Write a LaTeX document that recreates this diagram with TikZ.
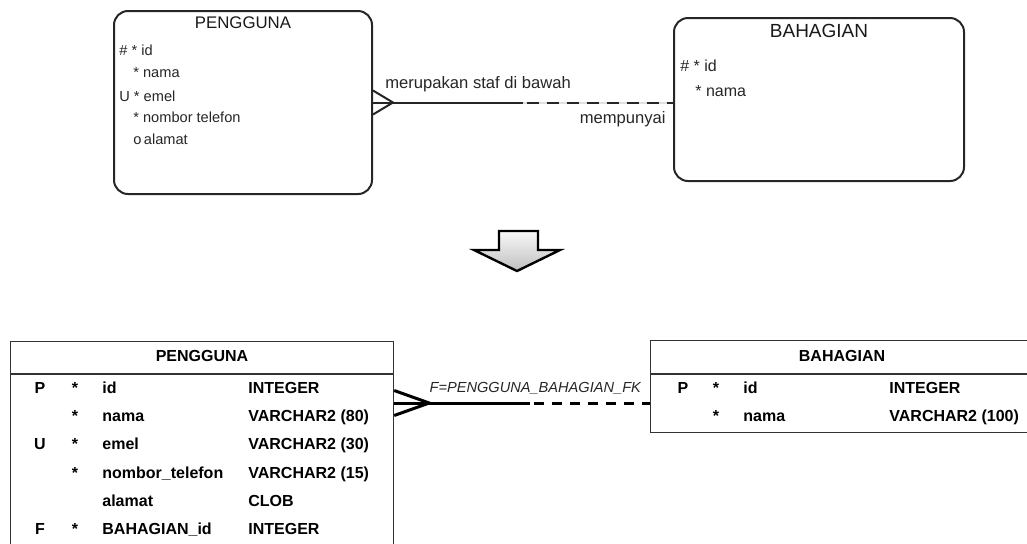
\documentclass[tikz,border=0pt]{standalone}
\usepackage{fontspec}
\setmainfont{Liberation Sans}
\usetikzlibrary{positioning,calc}
\definecolor{erdgray}{rgb}{0.15,0.15,0.15}

\tikzset{
  entity/.style={draw=erdgray, line width=1pt, rounded corners=7pt, anchor=north west, inner sep=0pt},
  enttitle/.style={font=\fontsize{8.4}{9}\selectfont, text=black!90, inner sep=0pt},
  attr/.style={font=\fontsize{7.3}{8}\selectfont, text=erdgray, anchor=west, inner sep=0pt},
  rellabel/.style={font=\fontsize{8.3}{9}\selectfont, text=erdgray, inner sep=0pt},
  tablebox/.style={draw=black!80, line width=0.6pt, anchor=north west, inner sep=0pt},
  coltxt/.style={font=\bfseries\fontsize{8}{9}\selectfont, inner sep=0pt, anchor=base west},
  keytxt/.style={font=\bfseries\fontsize{8}{9}\selectfont, inner sep=0pt, anchor=base}
}

\begin{document}
\begin{tikzpicture}[x=0.5pt, y=-0.5pt]
\useasboundingbox (0,0) rectangle (1027,543);

% logical model
\node[entity, minimum width=129pt, minimum height=91.5pt] (peng) at (113,10) {};
\node[enttitle, below=3pt of peng.north] (pengtitle) {PENGGUNA};
\node[attr] (pa1) at (119,50) {\# * id};
\node[attr] (pa2) at (133,73) {* nama};
\node[attr] (pa3) at (119,96) {U * emel};
\node[attr] (pa4) at (133,117) {* nombor telefon};
\node[attr] (pa5) at (133,139) {o\,alamat};

\node[entity, minimum width=145pt, minimum height=81.5pt] (bah) at (673,17) {};
\node[enttitle, font=\fontsize{9.5}{10}\selectfont, below=3.5pt of bah.north] (bahtitle) {BAHAGIAN};
\node[attr, font=\fontsize{8}{9}\selectfont] (ba1) at (680,66) {\# * id};
\node[attr, font=\fontsize{8}{9}\selectfont] (ba2) at (695,91) {* nama};

\coordinate (e1) at (peng.east -| bah.west);
\coordinate (m1) at ($(peng.east)!0.5!(e1)$);
\draw [line width=1pt, erdgray] ([yshift=6pt] peng.east) -- ([xshift=10pt] peng.east) -- ([yshift=-6pt] peng.east);
\draw [line width=1pt, erdgray] (peng.east) -- (m1);
\draw [line width=1pt, black!12] (m1) -- (e1);
\draw [line width=1pt, erdgray, dash pattern=on 6pt off 4pt, dash phase=-2pt] (m1) -- (e1);
\node[rellabel, anchor=base west] (r1) at ([xshift=6pt, yshift=7.25pt] peng.east) {merupakan staf di bawah};
\node[rellabel, anchor=base east] (r2) at ([xshift=-3.5pt, yshift=-10.5pt] e1) {mempunyai};

% transform arrow
\draw [top color=gray!5, bottom color=gray!50, draw=black, line width=1.2pt, line join=miter]
  (499,231) -- (538,231) -- (538,250) -- (560,250) -- (517,271) -- (474,250) -- (499,250) -- cycle;

% relational model
\node[tablebox, minimum width=191.5pt, minimum height=109.5pt] (tpeng) at (10,341) {};
\draw [black!80, line width=0.6pt] ([yshift=-16.5pt] tpeng.north west) -- ([yshift=-16.5pt] tpeng.north east);
\node[keytxt] (tpengtitle) at (202,361) {PENGGUNA};
\node[keytxt] (pk1) at (40,393.5) {P};
\node[keytxt] (ps1) at (75,393.5) {*};
\node[coltxt] (pc1) at (102,393.5) {id};
\node[coltxt] (pt1) at (248,393.5) {INTEGER};
\node[keytxt] (ps2) at (75,421.7) {*};
\node[coltxt] (pc2) at (102,421.7) {nama};
\node[coltxt] (pt2) at (248,421.7) {VARCHAR2 (80)};
\node[keytxt] (pk3) at (40,449.9) {U};
\node[keytxt] (ps3) at (75,449.9) {*};
\node[coltxt] (pc3) at (102,449.9) {emel};
\node[coltxt] (pt3) at (248,449.9) {VARCHAR2 (30)};
\node[keytxt] (ps4) at (75,478.1) {*};
\node[coltxt] (pc4) at (102,478.1) {nombor\_telefon};
\node[coltxt] (pt4) at (248,478.1) {VARCHAR2 (15)};
\node[coltxt] (pc5) at (102,506.3) {alamat};
\node[coltxt] (pt5) at (248,506.3) {CLOB};
\node[keytxt] (pk6) at (40,534.5) {F};
\node[keytxt] (ps6) at (75,534.5) {*};
\node[coltxt] (pc6) at (102,534.5) {BAHAGIAN\_id};
\node[coltxt] (pt6) at (248,534.5) {INTEGER};

\node[tablebox, minimum width=192.5pt, minimum height=46pt] (tbah) at (650,340) {};
\draw [black!80, line width=0.6pt] ([yshift=-17pt] tbah.north west) -- ([yshift=-17pt] tbah.north east);
\node[keytxt] (tbahtitle) at (842,361) {BAHAGIAN};
\node[keytxt] (bk1) at (683,393.5) {P};
\node[keytxt] (bs1) at (716,393.5) {*};
\node[coltxt] (bc1) at (743,393.5) {id};
\node[coltxt] (bt1) at (889,393.5) {INTEGER};
\node[keytxt] (bs2) at (716,421.5) {*};
\node[coltxt] (bc2) at (743,421.5) {nama};
\node[coltxt] (bt2) at (889,421.5) {VARCHAR2 (100)};

\coordinate (f1) at ([yshift=-31pt] tpeng.north east);
\coordinate (f2) at (f1 -| tbah.west);
\coordinate (m2) at ($(f1)!0.53!(f2)$);
\draw [line width=1.5pt] ([yshift=6.25pt] f1) -- ([xshift=17.5pt] f1) -- ([yshift=-6.25pt] f1);
\draw [line width=1.5pt] (f1) -- (m2);
\draw [line width=1.5pt, dash pattern=on 5pt off 4pt, dash phase=-2pt] (m2) -- (f2);
\node[rellabel, text=black!85, font=\itshape\fontsize{7.3}{8}\selectfont, anchor=base west] (fk) at ([xshift=17.5pt, yshift=5.5pt] f1) {F=PENGGUNA\_BAHAGIAN\_FK};
\end{tikzpicture}
\end{document}
